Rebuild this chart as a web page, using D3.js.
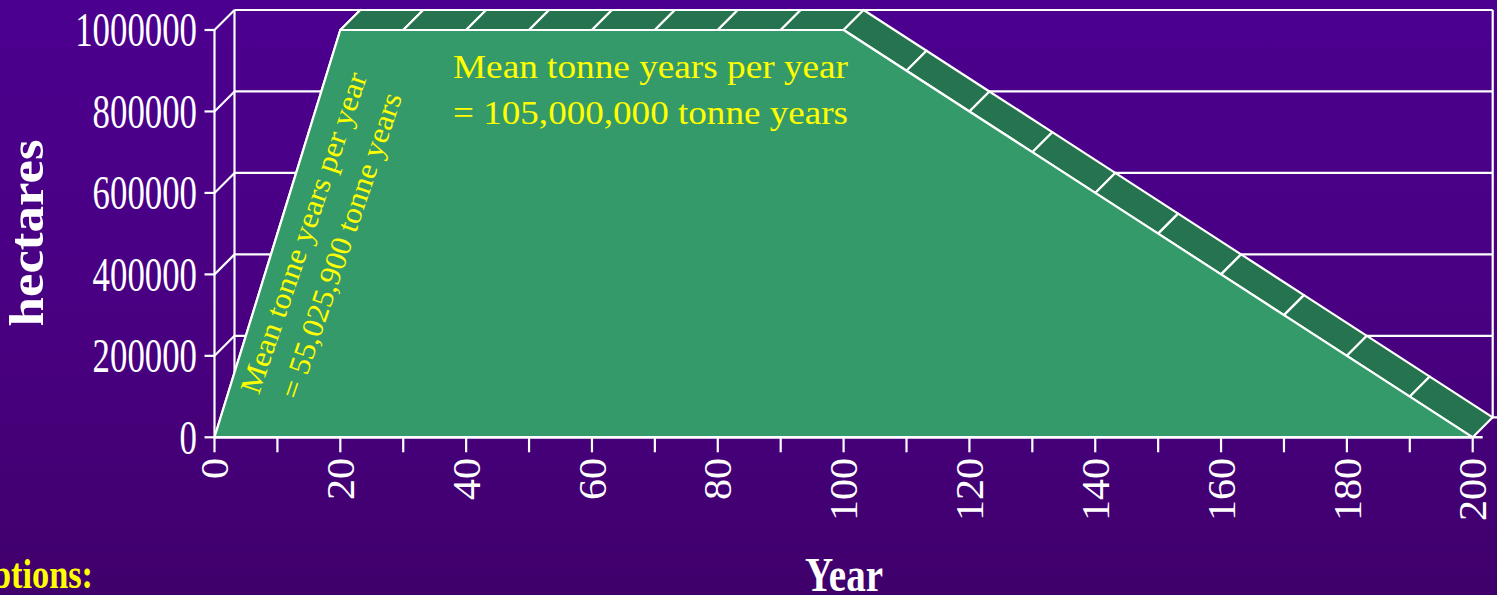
<!DOCTYPE html>
<html>
<head>
<meta charset="utf-8">
<script src="https://cdn.jsdelivr.net/npm/d3@7"></script>
<style>
  html, body { margin: 0; padding: 0; overflow: hidden; }
  svg { display: block; }
  text { font-family: "Liberation Serif", "Times New Roman", serif; }
</style>
</head>
<body>
<svg id="chart" width="1497" height="595"></svg>
<script>
// Land area under management by year
const years = [0, 10, 20, 30, 40, 50, 60, 70, 80, 90, 100,
               110, 120, 130, 140, 150, 160, 170, 180, 190, 200];
const hectares = [0, 500000, 1000000, 1000000, 1000000, 1000000, 1000000, 1000000, 1000000, 1000000, 1000000,
                  900000, 800000, 700000, 600000, 500000, 400000, 300000, 200000, 100000, 0];
const xTickValues = [0, 10, 20, 30, 40, 50, 60, 70, 80, 90, 100, 110, 120, 130, 140, 150, 160, 170, 180, 190, 200];
const xLabelValues = [0, 20, 40, 60, 80, 100, 120, 140, 160, 180, 200];
const yTickValues = [0, 200000, 400000, 600000, 800000, 1000000];
const annotationMain = ["Mean tonne years per year", "= 105,000,000 tonne years"];
const annotationRamp = ["Mean tonne years per year", "= 55,025,900 tonne years"];

const W = 1497, H = 595;
const svg = d3.select("#chart");

// background gradient
const defs = svg.append("defs");
const grad = defs.append("linearGradient").attr("id", "bg")
  .attr("x1", 0).attr("y1", 0).attr("x2", 0).attr("y2", 1);
grad.append("stop").attr("offset", "0%").attr("stop-color", "#4c008f");
grad.append("stop").attr("offset", "60%").attr("stop-color", "#48007f");
grad.append("stop").attr("offset", "100%").attr("stop-color", "#3f006b");
svg.append("rect").attr("width", W).attr("height", H).attr("fill", "url(#bg)");

const x = d3.scaleLinear().domain([0, 200]).range([214.5, 1472.7]);
const y = d3.scaleLinear().domain([0, 1000000]).range([437.3, 30]);
const DX = 20, DY = -20;   // depth offset of the back plane

const line = "#ffffff";
const g = svg.append("g");

// back wall gridlines
g.selectAll("line.grid").data(yTickValues).join("line")
  .attr("x1", x(0) + DX).attr("x2", v => v === 0 ? W + 5 : x(200) + DX)
  .attr("y1", v => y(v) + DY).attr("y2", v => y(v) + DY)
  .attr("stroke", line).attr("stroke-width", 2.2);
// back wall edges
g.append("line").attr("x1", x(0) + DX).attr("x2", x(0) + DX)
  .attr("y1", y(0) + DY).attr("y2", y(1000000) + DY).attr("stroke", line).attr("stroke-width", 2.2);
g.append("line").attr("x1", x(200) + DX).attr("x2", x(200) + DX)
  .attr("y1", y(0) + DY).attr("y2", y(1000000) + DY).attr("stroke", line).attr("stroke-width", 2.2);
// side wall diagonals
g.selectAll("line.side").data(yTickValues).join("line")
  .attr("x1", x(0)).attr("x2", x(0) + DX)
  .attr("y1", v => y(v)).attr("y2", v => y(v) + DY)
  .attr("stroke", line).attr("stroke-width", 2.2);
// front vertical axis
g.append("line").attr("x1", x(0)).attr("x2", x(0))
  .attr("y1", y(0)).attr("y2", y(1000000)).attr("stroke", line).attr("stroke-width", 2.2);

// top surface of the area: one panel per data interval
const pts = years.map((yr, i) => [x(yr), y(hectares[i])]);
const panels = d3.pairs(pts);
g.selectAll("path.panel").data(panels).join("path")
  .attr("d", ([a, b]) => `M${a[0]},${a[1]}L${b[0]},${b[1]}L${b[0] + DX},${b[1] + DY}L${a[0] + DX},${a[1] + DY}Z`)
  .attr("fill", "#26744f").attr("stroke", line).attr("stroke-width", 2.2).attr("stroke-linejoin", "round");

// front face of the area
const area = d3.area().x((d, i) => x(years[i])).y0(y(0)).y1(d => y(d));
g.append("path").datum(hectares).attr("d", area)
  .attr("fill", "#359a6a").attr("stroke", line).attr("stroke-width", 2.2).attr("stroke-linejoin", "round");

// x axis line and ticks
g.append("line").attr("x1", x(0)).attr("x2", x(200) + 10)
  .attr("y1", y(0)).attr("y2", y(0)).attr("stroke", line).attr("stroke-width", 2.5);
g.selectAll("line.xt").data(xTickValues).join("line")
  .attr("x1", d => x(d)).attr("x2", d => x(d)).attr("y1", y(0)).attr("y2", y(0) + 15)
  .attr("stroke", line).attr("stroke-width", 2.2);
// y ticks
g.selectAll("line.yt").data(yTickValues).join("line")
  .attr("x1", x(0) - 10).attr("x2", x(0)).attr("y1", d => y(d)).attr("y2", d => y(d))
  .attr("stroke", line).attr("stroke-width", 2.2);

// y tick labels
g.selectAll("text.yl").data(yTickValues).join("text")
  .attr("x", 197).attr("y", d => y(d)).attr("dy", "0.34em")
  .attr("text-anchor", "end").attr("fill", "#fff").attr("font-size", 48)
  .attr("textLength", d => String(d).length * 17.4).attr("lengthAdjust", "spacingAndGlyphs")
  .text(d => String(d));

// x tick labels (rotated)
g.selectAll("text.xl").data(xLabelValues).join("text")
  .attr("transform", d => `translate(${x(d)},458) rotate(-90)`)
  .attr("dy", "0.35em").attr("text-anchor", "end").attr("fill", "#fff").attr("font-size", 39)
  .attr("textLength", d => String(d).length * 21).attr("lengthAdjust", "spacingAndGlyphs")
  .text(d => String(d));

// axis titles
svg.append("text").attr("transform", "translate(43,233) rotate(-90)")
  .attr("text-anchor", "middle").attr("fill", "#fff").attr("font-size", 48).attr("font-weight", "bold")
  .attr("textLength", 187).attr("lengthAdjust", "spacingAndGlyphs").text("hectares");
svg.append("text").attr("x", 844).attr("y", 590.5)
  .attr("text-anchor", "middle").attr("fill", "#fff").attr("font-size", 48).attr("font-weight", "bold")
  .attr("textLength", 78).attr("lengthAdjust", "spacingAndGlyphs").text("Year");

// footnote heading, running off the left edge of the slide
svg.append("text").attr("x", 93).attr("y", 588)
  .attr("text-anchor", "end").attr("fill", "#ffff00").attr("font-size", 43).attr("font-weight", "bold")
  .attr("textLength", 200).attr("lengthAdjust", "spacingAndGlyphs").text("Assumptions:");

// annotations
svg.selectAll("text.am").data(annotationMain).join("text")
  .attr("x", 453).attr("y", (d, i) => 78 + i * 46)
  .attr("fill", "#ffff00").attr("font-size", 34)
  .attr("textLength", 395).attr("lengthAdjust", "spacingAndGlyphs").text(d => d);

const ramp = svg.append("g").attr("transform", "translate(313,236) rotate(-71.2)");
ramp.selectAll("text").data(annotationRamp).join("text")
  .attr("x", 0).attr("y", (d, i) => i * 39.5)
  .attr("text-anchor", "middle").attr("fill", "#ffff00").attr("font-size", 30)
  .attr("textLength", (d, i) => i === 0 ? 337 : 321).attr("lengthAdjust", "spacingAndGlyphs")
  .text(d => d);
</script>
</body>
</html>
